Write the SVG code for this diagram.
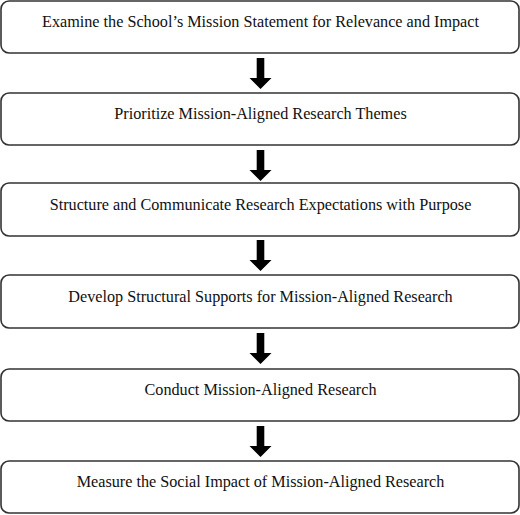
<svg xmlns="http://www.w3.org/2000/svg" width="520" height="515" viewBox="0 0 520 515">
<style>
.box{fill:#fff;stroke:#333;stroke-width:1.6}
.t{font-family:"Liberation Serif","Times New Roman",serif;font-size:16.2px;fill:#111;text-anchor:middle}
.arr{fill:#000}
</style>
<defs>
<path id="ar" d="M-3.8,0 H3.8 V20 H11 L0,31 L-11,20 H-3.8 Z"/>
</defs>
<rect width="520" height="515" fill="#fff"/>
<g id="connectors">
<use href="#ar" class="arr" x="260.5" y="58"/>
<use href="#ar" class="arr" x="260.5" y="150"/>
<use href="#ar" class="arr" x="260.5" y="240"/>
<use href="#ar" class="arr" x="260.5" y="333"/>
<use href="#ar" class="arr" x="260.5" y="426"/>
</g>
<g id="n1"><rect class="box" x="1" y="1" width="518" height="52" rx="8"/><text class="t" x="260.5" y="27">Examine the School’s Mission Statement for Relevance and Impact</text></g>
<g id="n2"><rect class="box" x="1" y="93" width="518" height="52" rx="8"/><text class="t" x="260.5" y="119">Prioritize Mission-Aligned Research Themes</text></g>
<g id="n3"><rect class="box" x="1" y="183" width="518" height="53" rx="8"/><text class="t" x="260.5" y="209.5">Structure and Communicate Research Expectations with Purpose</text></g>
<g id="n4"><rect class="box" x="1" y="275" width="518" height="53" rx="8"/><text class="t" x="260.5" y="301.5">Develop Structural Supports for Mission-Aligned Research</text></g>
<g id="n5"><rect class="box" x="1" y="369" width="518" height="52" rx="8"/><text class="t" x="260.5" y="395">Conduct Mission-Aligned Research</text></g>
<g id="n6"><rect class="box" x="1" y="461" width="518" height="52" rx="8"/><text class="t" x="260.5" y="487">Measure the Social Impact of Mission-Aligned Research</text></g>
</svg>
